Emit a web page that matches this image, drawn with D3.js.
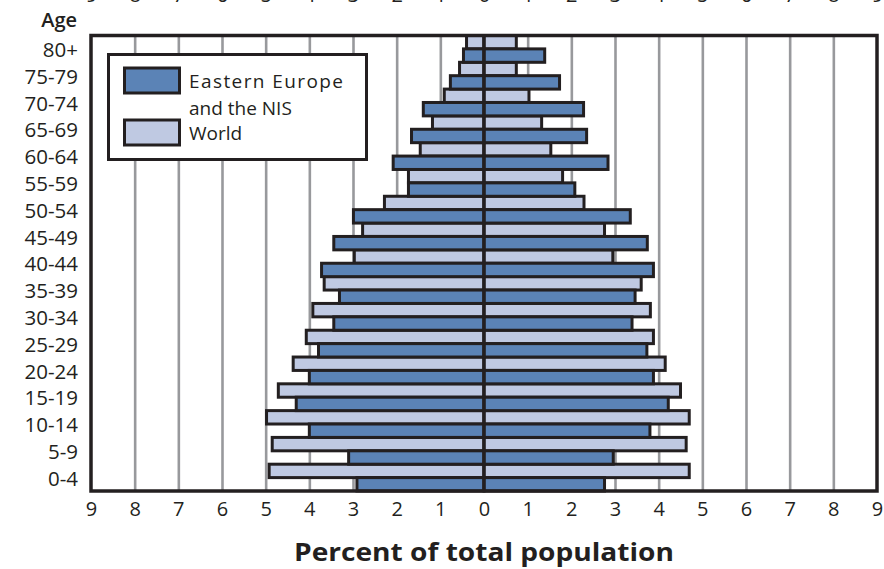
<!DOCTYPE html>
<html>
<head>
<meta charset="utf-8">
<script src="https://cdn.jsdelivr.net/npm/d3@7"></script>
<style>
  html, body { margin: 0; padding: 0; background: #ffffff; }
  svg { display: block; }
  text { font-family: "Open Sans", "DejaVu Sans", sans-serif; fill: #231f20; }
</style>
</head>
<body>
<svg id="chart" width="884" height="569"></svg>
<script>
// Age groups, top to bottom
const ages = ["80+","75-79","70-74","65-69","60-64","55-59","50-54","45-49","40-44",
              "35-39","30-34","25-29","20-24","15-19","10-14","5-9","0-4"];
// Percent of total population (left side / right side)
const worldLeft  = [0.40,0.56,0.91,1.18,1.46,1.73,2.28,2.78,2.97,3.66,3.92,4.07,4.37,4.71,4.98,4.85,4.92];
const eeLeft     = [0.47,0.77,1.39,1.66,2.08,1.73,2.99,3.44,3.72,3.31,3.44,3.79,4.00,4.30,4.00,3.10,2.91];
const worldRight = [0.74,0.74,1.03,1.32,1.53,1.80,2.29,2.76,2.95,3.60,3.81,3.88,4.15,4.50,4.70,4.63,4.70];
const eeRight    = [1.39,1.73,2.28,2.35,2.84,2.08,3.35,3.74,3.88,3.46,3.39,3.73,3.88,4.22,3.80,2.96,2.76];
const tickValues = [-9,-8,-7,-6,-5,-4,-3,-2,-1,0,1,2,3,4,5,6,7,8,9];
const legendLines = [["Eastern Europe", "and the NIS"], ["World"]];

const colors = { ee: "#5b83b6", world: "#bfc9e2", ink: "#231f20", grid: "#98999c" };

const svg = d3.select("#chart");
const pLeft = 91, pRight = 877, pTop = 35.5, pBottom = 491;

const x = d3.scaleLinear().domain([-9, 9]).range([pLeft, pRight]);
const y = d3.scaleBand().domain(ages).range([pTop, pBottom]).paddingInner(0).paddingOuter(0);
const half = y.bandwidth() / 2;

// gridlines
svg.append("g")
  .attr("transform", `translate(0,${pBottom})`)
  .call(d3.axisBottom(x).tickValues(tickValues.filter(d => d !== 0 && Math.abs(d) !== 9))
        .tickSize(-(pBottom - pTop)).tickFormat(""))
  .call(g => g.select(".domain").remove())
  .call(g => g.selectAll(".tick line").attr("stroke", colors.grid).attr("stroke-width", 2.6));

// legend box (drawn over gridlines)
const legend = svg.append("g");
legend.append("rect").attr("x", 108.5).attr("y", 54.5).attr("width", 258).attr("height", 105)
  .attr("fill", "#fff").attr("stroke", colors.ink).attr("stroke-width", 3);
const legendItems = [
  { fill: colors.ee, y: 68, lines: legendLines[0] },
  { fill: colors.world, y: 120, lines: legendLines[1] }
];
legendItems.forEach(it => {
  legend.append("rect").attr("x", 124.5).attr("y", it.y).attr("width", 55).attr("height", 25)
    .attr("fill", it.fill).attr("stroke", colors.ink).attr("stroke-width", 3);
  it.lines.forEach((ln, i) => {
    legend.append("text").attr("x", 189).attr("y", it.y + 20 + i * 27)
      .attr("font-size", 19).attr("textLength", i === 0 && ln.length > 10 ? 154 : null)
      .text(ln);
  });
});

// bars
function drawBars(vals, side, fill, offset) {
  svg.append("g").selectAll("rect").data(ages).join("rect")
    .attr("x", (d, i) => side < 0 ? x(-vals[i]) : x(0))
    .attr("width", (d, i) => Math.abs(x(side * vals[i]) - x(0)))
    .attr("y", d => y(d) + offset)
    .attr("height", half)
    .attr("fill", fill)
    .attr("stroke", colors.ink)
    .attr("stroke-width", 3);
}
drawBars(worldLeft, -1, colors.world, 0);
drawBars(worldRight, 1, colors.world, 0);
drawBars(eeLeft, -1, colors.ee, half);
drawBars(eeRight, 1, colors.ee, half);

// center line
svg.append("line").attr("x1", x(0)).attr("x2", x(0)).attr("y1", pTop).attr("y2", pBottom)
  .attr("stroke", colors.ink).attr("stroke-width", 3.2);

// frame
svg.append("rect").attr("x", pLeft).attr("y", pTop).attr("width", pRight - pLeft).attr("height", pBottom - pTop)
  .attr("fill", "none").attr("stroke", colors.ink).attr("stroke-width", 3.5);

// bottom axis labels
svg.append("g")
  .attr("transform", `translate(0,${pBottom})`)
  .call(d3.axisBottom(x).tickValues(tickValues).tickSize(0).tickPadding(11).tickFormat(d => Math.abs(d)))
  .call(g => g.select(".domain").remove())
  .call(g => g.selectAll("text").attr("font-size", 20).attr("fill", colors.ink)
        .style("font-family", "'Open Sans', sans-serif"));

// top axis labels (mostly cut off at the top edge, as in the source)
svg.append("g")
  .attr("transform", `translate(0,1.5)`)
  .call(d3.axisTop(x).tickValues(tickValues).tickSize(0).tickPadding(0).tickFormat(d => Math.abs(d)))
  .call(g => g.select(".domain").remove())
  .call(g => g.selectAll("text").attr("font-size", 20).attr("fill", colors.ink)
        .style("font-family", "'Open Sans', sans-serif"));

// age labels
svg.append("g")
  .attr("transform", `translate(${pLeft},0)`)
  .call(d3.axisLeft(y).tickSize(0).tickPadding(13))
  .call(g => g.select(".domain").remove())
  .call(g => g.selectAll("text").attr("font-size", 20.5).attr("fill", colors.ink).attr("dy", "0.4em")
        .style("font-family", "'Open Sans', sans-serif"));

svg.append("text").attr("x", 77).attr("y", 27).attr("text-anchor", "end")
  .attr("font-size", 20).attr("font-weight", 600).text("Age");

svg.append("text").attr("x", 484).attr("y", 561).attr("text-anchor", "middle")
  .attr("font-size", 25).attr("font-weight", 700)
  .attr("textLength", 380).attr("lengthAdjust", "spacingAndGlyphs")
  .text("Percent of total population");
</script>
</body>
</html>
